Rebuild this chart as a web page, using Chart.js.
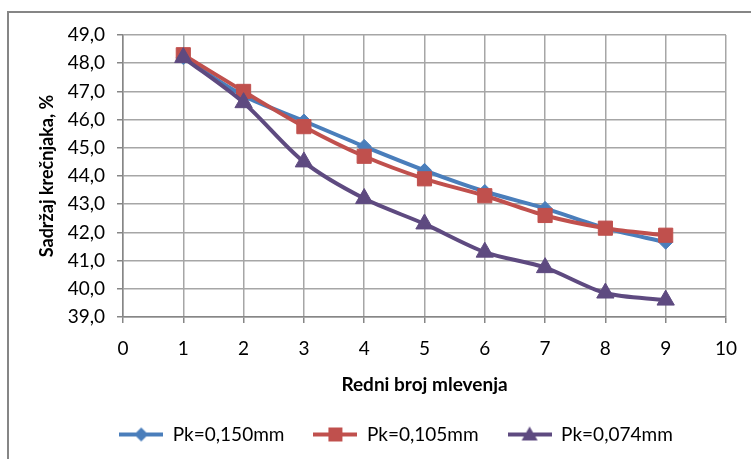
<!DOCTYPE html>
<html>
<head>
<meta charset="utf-8">
<script src="https://cdn.jsdelivr.net/npm/chart.js@4/dist/chart.umd.min.js"></script>
<style>
html,body{margin:0;padding:0;background:#fff;}
#wrap{width:751px;height:459px;position:relative;}
</style>
</head>
<body>
<div id="wrap"><canvas id="c" width="751" height="459"></canvas></div>
<script>
// ---- Data ----
const xValues = [1, 2, 3, 4, 5, 6, 7, 8, 9];
const pk150 = [48.2, 46.85, 45.95, 45.05, 44.2, 43.45, 42.85, 42.15, 41.65];
const pk105 = [48.3, 47.0, 45.75, 44.7, 43.9, 43.3, 42.6, 42.15, 41.9];
const pk074 = [48.2, 46.6, 44.5, 43.2, 42.3, 41.3, 40.75, 39.85, 39.6];
const seriesNames = ['Pk=0,150mm', 'Pk=0,105mm', 'Pk=0,074mm'];
const xTickMin = 0, xTickMax = 10, xTickStep = 1;
const yTickMin = 39, yTickMax = 49, yTickStep = 1;
const xTitle = 'Redni broj mlevenja';
const yTitle = 'Sadržaj krečnjaka, %';

const colors = ['#4A7EBB', '#C0504D', '#5E4A80'];
const styles = ['rectRot', 'rect', 'triangle'];
const radii = [7, 10, 10];
const FONT = 'Lato';

function pts(ys) { return xValues.map((x, i) => ({ x: x, y: ys[i] })); }

function legendIcon(color, style) {
  const c = document.createElement('canvas');
  c.width = 44; c.height = 20;
  const g = c.getContext('2d');
  g.strokeStyle = color; g.lineWidth = 4;
  g.beginPath(); g.moveTo(0, 10); g.lineTo(44, 10); g.stroke();
  g.fillStyle = color;
  g.beginPath();
  if (style === 'rectRot') { g.moveTo(22, 3); g.lineTo(29, 10); g.lineTo(22, 17); g.lineTo(15, 10); }
  else if (style === 'rect') { g.rect(15, 3, 14, 14); }
  else { g.moveTo(22, 2); g.lineTo(30, 16); g.lineTo(14, 16); }
  g.closePath(); g.fill();
  return c;
}

const allSeries = [pk150, pk105, pk074];
const datasets = allSeries.map((s, i) => ({
  label: seriesNames[i],
  data: pts(s),
  showLine: true,
  borderColor: colors[i],
  backgroundColor: colors[i],
  borderWidth: 4,
  tension: 0.3,
  pointStyle: styles[i],
  pointRadius: radii[i],
  pointHoverRadius: radii[i],
  pointBorderWidth: 1,
  pointBorderColor: colors[i],
  pointBackgroundColor: colors[i]
}));
datasets[0].order = 3; datasets[1].order = 2; datasets[2].order = 1;

const frame = {
  id: 'frame',
  beforeDraw(chart) {
    const ctx = chart.ctx;
    ctx.save();
    ctx.strokeStyle = '#868686';
    ctx.lineWidth = 2;
    ctx.strokeRect(8, 12, 800, 500);
    ctx.restore();
  }
};
const legendShift = {
  id: 'legendShift',
  afterLayout(chart) {
    const l = chart.legend;
    if (l) { l.left += 26; l.right += 26; }
  }
};

new Chart(document.getElementById('c'), {
  type: 'scatter',
  data: { datasets: datasets },
  plugins: [frame, legendShift],
  options: {
    responsive: false,
    animation: false,
    events: [],
    layout: { padding: { left: 10, right: 21, top: 35, bottom: 5 } },
    plugins: {
      tooltip: { enabled: false },
      legend: {
        position: 'bottom',
        labels: {
          font: { family: FONT, size: 19 },
          color: '#000',
          usePointStyle: true,
          pointStyleWidth: 44,
          padding: 29,
          generateLabels(chart) {
            return chart.data.datasets.map((d, i) => ({
              text: d.label,
              pointStyle: legendIcon(colors[i], styles[i]),
              fillStyle: colors[i],
              strokeStyle: colors[i],
              lineWidth: 0,
              hidden: false,
              datasetIndex: i
            }));
          }
        }
      }
    },
    scales: {
      x: {
        type: 'linear',
        min: xTickMin, max: xTickMax,
        ticks: { stepSize: xTickStep, color: '#000', font: { family: FONT, size: 19 }, padding: 14 },
        grid: { color: '#A6A6A6', lineWidth: 1.5, tickLength: 6, tickColor: '#868686' },
        border: { color: '#868686', width: 1.5 },
        title: { display: true, text: xTitle, color: '#000', font: { family: FONT, size: 19, weight: 'bold' }, padding: { top: 6, bottom: 0 } },
        afterFit(s) { s.height = 79; }
      },
      y: {
        type: 'linear',
        min: yTickMin, max: yTickMax,
        ticks: {
          stepSize: yTickStep, color: '#000', font: { family: FONT, size: 19 }, padding: 12,
          callback: v => v.toFixed(1).replace('.', ',')
        },
        grid: { color: '#A6A6A6', lineWidth: 1.5, tickLength: 6, tickColor: '#868686' },
        border: { color: '#868686', width: 1.5 },
        title: { display: true, text: yTitle, color: '#000', font: { family: FONT, size: 18, weight: 'bold' }, padding: { top: 26, bottom: 0 } },
        afterFit(s) { s.width = 113; }
      }
    }
  }
});
</script>
</body>
</html>
